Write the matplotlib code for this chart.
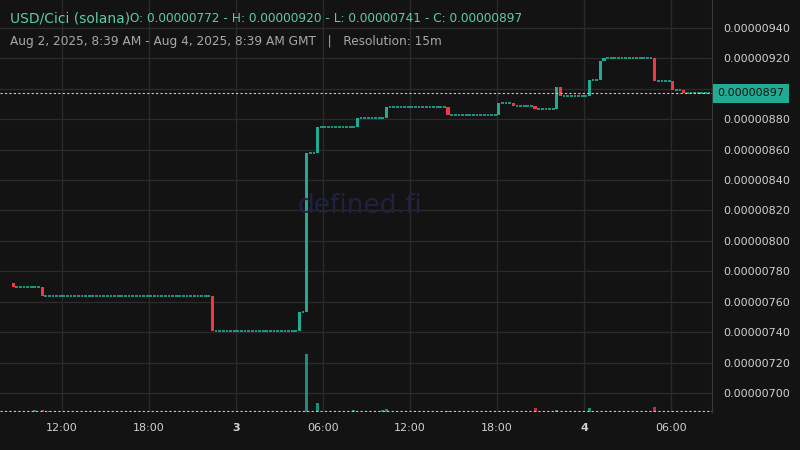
import numpy as np
import matplotlib.pyplot as plt

# price in units of 1e-6, time in hours from Aug 2 00:00 GMT
start_hour = 8.5
n_bars = 193
first_open = 7.72
change_hours = [8.5, 10.5, 22.25, 28.25, 28.75, 29.5, 32.25, 34.25, 38.5, 42.0, 43.0, 44.5, 46.0, 46.25, 48.25, 49.0, 49.25, 52.75, 54.0, 54.75]
change_close = [7.70, 7.64, 7.41, 7.53, 8.58, 8.75, 8.81, 8.88, 8.83, 8.91, 8.89, 8.87, 9.01, 8.95, 9.06, 9.18, 9.20, 9.05, 8.99, 8.97]
vol_hours = [10.0, 10.5, 11.0, 28.75, 29.5, 32.0, 34.0, 34.25, 38.5, 44.5, 46.0, 48.25, 48.5, 52.75, 54.0]
vol_values = [1.0, 0.8, 0.6, 30.0, 4.5, 0.8, 1.0, 1.5, 0.5, 2.0, 1.0, 2.0, 0.7, 2.5, 0.7]
last_price = 8.97
y_ticks = [7.00, 7.20, 7.40, 7.60, 7.80, 8.00, 8.20, 8.40, 8.60, 8.80, 9.20, 9.40]
x_tick_pos = [12, 18, 24, 30, 36, 42, 48, 54]
x_tick_lab = ['12:00', '18:00', '3', '06:00', '12:00', '18:00', '4', '06:00']

GREEN = '#22ab94'
RED = '#f23645'
BG = '#131313'

# build 15m candles: close holds at last change level
times = start_hour + 0.25 * np.arange(n_bars)
closes = []
lvl = first_open
ci = 0
for t in times:
    while ci < len(change_hours) and change_hours[ci] <= t + 1e-9:
        lvl = change_close[ci]
        ci += 1
    closes.append(lvl)
opens = [first_open] + closes[:-1]

fig = plt.figure(figsize=(8, 4.5), dpi=100, facecolor=BG)
ax = fig.add_axes([0, 38 / 450, 712 / 800, 412 / 450])
ax.set_facecolor(BG)
ax.set_xlim(7.72, 56.83)
ax.set_ylim(6.875, 9.584)

vax = ax.twinx()
vax.set_ylim(0, max(vol_values) * 412 / 58)
vvol = np.zeros(n_bars)
for h, v in zip(vol_hours, vol_values):
    vvol[int(round((h - start_hour) / 0.25))] = v
vcol = [GREEN if c >= o else RED for o, c in zip(opens, closes)]
vax.bar(times + 0.125, vvol, width=0.2, color=vcol, alpha=0.8)
vax.axhline(0.35, color='#cccccc', ls=(0, (2, 2)), lw=0.8)
vax.set_yticks([])
vax.set_axis_off()

for t, o, c in zip(times, opens, closes):
    col = GREEN if c >= o else RED
    if abs(c - o) < 1e-9:
        ax.plot([t + 0.03, t + 0.22], [c, c], color=col, lw=1.2, solid_capstyle='butt')
    else:
        ax.bar(t + 0.125, c - o, bottom=o, width=0.22, color=col, linewidth=0)

ax.axhline(last_price, color='#cccccc', ls=(0, (2, 2)), lw=0.8)

ax.yaxis.tick_right()
ax.set_yticks(y_ticks)
ax.set_yticklabels([f'{v * 1e-6:.8f}' for v in y_ticks])
ax.set_yticks([9.00], minor=True)
ax.set_xticks(x_tick_pos)
ax.set_xticklabels(x_tick_lab)
for lab in ax.get_xticklabels():
    if lab.get_text() in ('3', '4'):
        lab.set_fontweight('bold')
ax.tick_params(colors='#d1d1d1', labelsize=8, length=0, pad=8)
ax.tick_params(axis='y', which='minor', length=0)
ax.grid(True, which='both', color='#2b2b2b', lw=0.9)
ax.set_axisbelow(True)
for s in ax.spines.values():
    s.set_visible(False)
ax.spines['right'].set_visible(True)
ax.spines['right'].set_color('#3a3a3a')

ax.text(1.008, (last_price - 6.875) / (9.584 - 6.875), f'{last_price * 1e-6:.8f}', transform=ax.transAxes,
        ha='left', va='center', fontsize=8, color='#131313',
        bbox=dict(boxstyle='square,pad=0.4', fc=GREEN, ec='none'))

fig.text(0.0125, 1 - 19 / 450, 'USD/Cici (solana)', color='#5fc9a8', fontsize=10, va='center')
fig.text(0.163, 1 - 19 / 450, 'O: 0.00000772 - H: 0.00000920 - L: 0.00000741 - C: 0.00000897',
         color='#5fc9a8', fontsize=8.7, va='center')
fig.text(0.0125, 1 - 41 / 450, 'Aug 2, 2025, 8:39 AM - Aug 4, 2025, 8:39 AM GMT   |   Resolution: 15m',
         color='#a8a8a8', fontsize=8.7, va='center')
fig.text(0.45, 1 - 206 / 450, 'defined.fi', color='#202040', fontsize=19, ha='center', va='center')

fig.savefig('out.png', facecolor=BG)
